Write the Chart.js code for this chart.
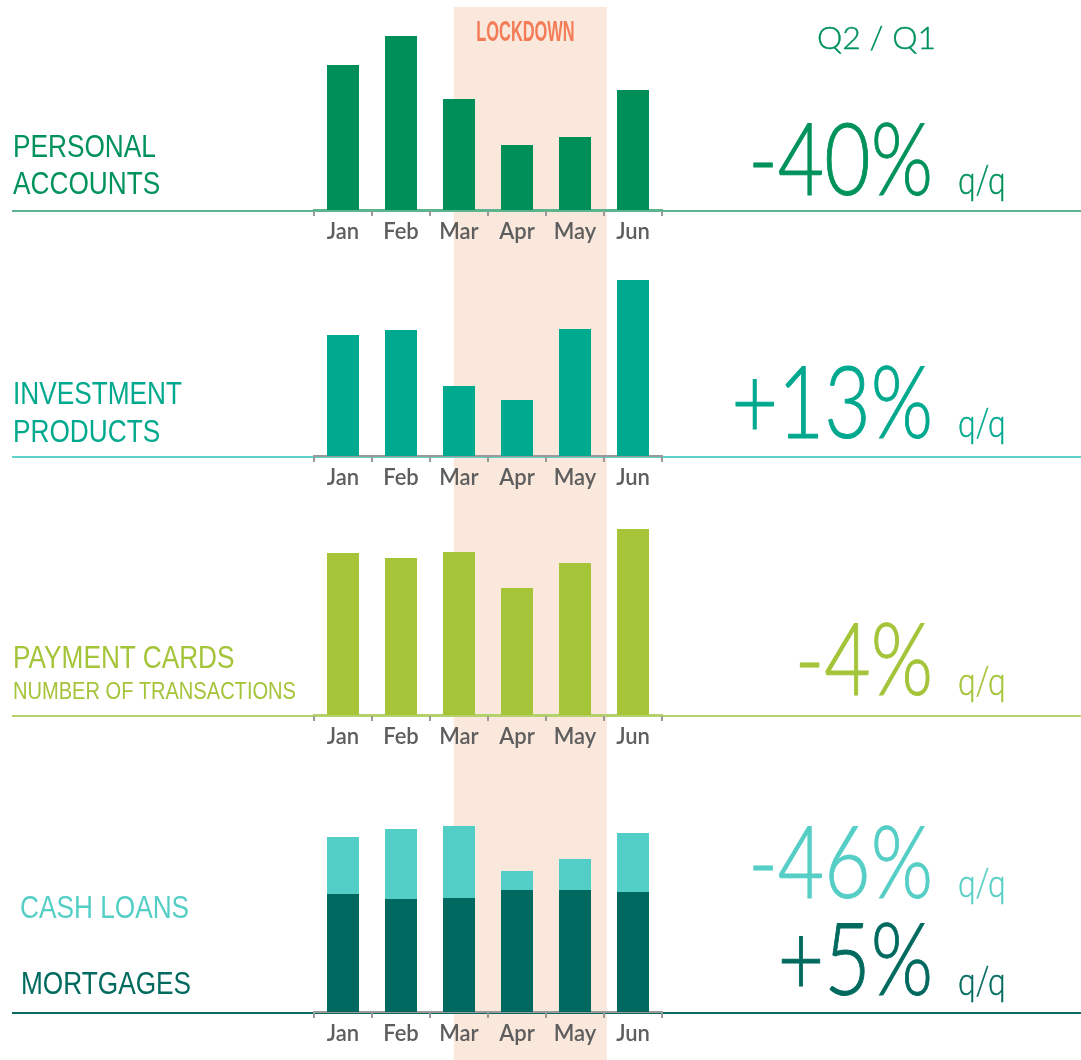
<!DOCTYPE html>
<html>
<head>
<meta charset="utf-8">
<script src="https://cdn.jsdelivr.net/npm/chart.js@4.4.1/dist/chart.umd.min.js"></script>
<style>
  html, body { margin:0; padding:0; background:#fff; }
  #wrap { position:relative; width:1081px; height:1060px; overflow:hidden; }
  canvas { position:absolute; left:0; }
  svg { position:absolute; left:0; top:0; pointer-events:none; }
</style>
</head>
<body>
<div id="wrap">
  <canvas id="c1" width="1081" height="250" style="top:0px"></canvas>
  <canvas id="c2" width="1081" height="245" style="top:250px"></canvas>
  <canvas id="c3" width="1081" height="260" style="top:495px"></canvas>
  <canvas id="c4" width="1081" height="305" style="top:755px"></canvas>
  <svg width="1081" height="1060" xmlns="http://www.w3.org/2000/svg">
    <g font-family="'Liberation Sans', Arial, sans-serif">
      <text transform="translate(525.5,41) scale(0.565,1)" text-anchor="middle" font-weight="bold" font-size="29" fill="#F37B56">LOCKDOWN</text>
      <text transform="translate(13,157) scale(0.82,1)" font-size="32" fill="#00925B">PERSONAL</text>
      <text transform="translate(13,194) scale(0.82,1)" font-size="32" fill="#00925B">ACCOUNTS</text>
      <text transform="translate(13,404) scale(0.82,1)" font-size="32" fill="#00A98E">INVESTMENT</text>
      <text transform="translate(13,441.5) scale(0.82,1)" font-size="32" fill="#00A98E">PRODUCTS</text>
      <text transform="translate(13,668) scale(0.82,1)" font-size="32" fill="#A4C43A">PAYMENT CARDS</text>
      <text transform="translate(13,699) scale(0.82,1)" font-size="24.5" fill="#A4C43A">NUMBER OF TRANSACTIONS</text>
      <text transform="translate(20,918) scale(0.82,1)" font-size="32" fill="#55CEC6">CASH LOANS</text>
      <text transform="translate(21,994) scale(0.82,1)" font-size="32" fill="#006A5F">MORTGAGES</text>
    </g>
    <g font-family="Lato, sans-serif" font-weight="300">
      <text x="817" y="49" font-size="32" fill="#00925B" stroke="#00925B" stroke-width="0.4">Q2 / Q1</text>
      <g stroke-width="1">
        <text transform="translate(933,195) scale(0.8,1)" text-anchor="end" font-size="100" fill="#00925B" stroke="#00925B">-40%</text>
        <text transform="translate(958,194) scale(0.8,1)" font-size="40" fill="#00925B" stroke="#00925B" stroke-width="0.5">q/q</text>
        <text transform="translate(933,438) scale(0.8,1)" text-anchor="end" font-size="100" fill="#00A98E" stroke="#00A98E">+13%</text>
        <text transform="translate(958,437) scale(0.8,1)" font-size="40" fill="#00A98E" stroke="#00A98E" stroke-width="0.5">q/q</text>
        <text transform="translate(933,695) scale(0.8,1)" text-anchor="end" font-size="100" fill="#A4C43A" stroke="#A4C43A">-4%</text>
        <text transform="translate(958,695) scale(0.8,1)" font-size="40" fill="#A4C43A" stroke="#A4C43A" stroke-width="0.5">q/q</text>
        <text transform="translate(933,898) scale(0.8,1)" text-anchor="end" font-size="100" fill="#55CEC6" stroke="#55CEC6">-46%</text>
        <text transform="translate(958,897) scale(0.8,1)" font-size="40" fill="#55CEC6" stroke="#55CEC6" stroke-width="0.5">q/q</text>
        <text transform="translate(933,995) scale(0.8,1)" text-anchor="end" font-size="100" fill="#006A5F" stroke="#006A5F">+5%</text>
        <text transform="translate(958,995) scale(0.8,1)" font-size="40" fill="#006A5F" stroke="#006A5F" stroke-width="0.5">q/q</text>
      </g>
    </g>
  </svg>
</div>
<script>
// ---- data (index values) ----
const months = ['Jan', 'Feb', 'Mar', 'Apr', 'May', 'Jun'];
const personalAccounts = [145, 174, 111, 65, 73, 120];
const investmentProducts = [121, 126, 70, 56, 127, 176];
const paymentCards = [162, 157, 163, 127, 152, 186];
const mortgages = [118, 113, 114, 122, 122, 120];
const cashLoans = [57, 70, 72, 19, 31, 59];
// lockdown period, in category positions (mid-March to end of May)
const lockdownStart = 1.91;
const lockdownEnd = 4.55;

const bandPlugin = {
  id: 'band',
  beforeDraw(chart, args, opts) {
    const ctx = chart.ctx;
    const xs = chart.scales.x;
    const x0 = xs.getPixelForValue(lockdownStart);
    const x1 = xs.getPixelForValue(lockdownEnd);
    ctx.save();
    ctx.fillStyle = '#FBE8DD';
    ctx.fillRect(x0, opts.top || 0, x1 - x0, chart.height - (opts.top || 0));
    const y = chart.chartArea.bottom;
    ctx.strokeStyle = opts.lineColor;
    ctx.lineWidth = 2;
    ctx.beginPath();
    ctx.moveTo(12, y + 1);
    ctx.lineTo(chart.width, y + 1);
    ctx.stroke();
    ctx.restore();
  }
};

function makeChart(id, datasets, yMax, axisH, lineColor, borderColor, bandTop, stacked) {
  return new Chart(document.getElementById(id), {
    type: 'bar',
    data: { labels: months, datasets },
    options: {
      responsive: false,
      devicePixelRatio: 1,
      animation: false,
      events: [],
      layout: { padding: { left: 314, right: 419, top: 0, bottom: 0 } },
      plugins: {
        legend: { display: false },
        tooltip: { enabled: false },
        band: { top: bandTop, lineColor }
      },
      datasets: { bar: { categoryPercentage: 1, barPercentage: 0.552, borderWidth: 0 } },
      scales: {
        x: {
          stacked,
          offset: true,
          afterFit(scale) { scale.height = axisH; },
          grid: { display: true, offset: true, drawOnChartArea: false, drawTicks: true, tickLength: 6, color: '#9a9a9a', lineWidth: 2 },
          border: { display: true, color: borderColor, width: 2 },
          ticks: { color: '#5e5e5e', padding: 3, maxRotation: 0, font: { family: 'Lato', size: 22, weight: '600' } }
        },
        y: { display: false, stacked, min: 0, max: yMax }
      }
    },
    plugins: [bandPlugin]
  });
}

makeChart('c1', [{ data: personalAccounts, backgroundColor: '#008F58' }], 210, 40, '#5DB590', '#5DB590', 7, false);
makeChart('c2', [{ data: investmentProducts, backgroundColor: '#00AA8E' }], 206, 39, '#5ED4CB', '#9a9a9a', 0, false);
makeChart('c3', [{ data: paymentCards, backgroundColor: '#A6C438' }], 220, 40, '#B5D16B', '#B5D16B', 0, false);
makeChart('c4', [
  { data: mortgages, backgroundColor: '#00695F' },
  { data: cashLoans, backgroundColor: '#52CEC6' }
], 257, 48, '#0B6B60', '#9a9a9a', 0, true);
</script>
</body>
</html>
